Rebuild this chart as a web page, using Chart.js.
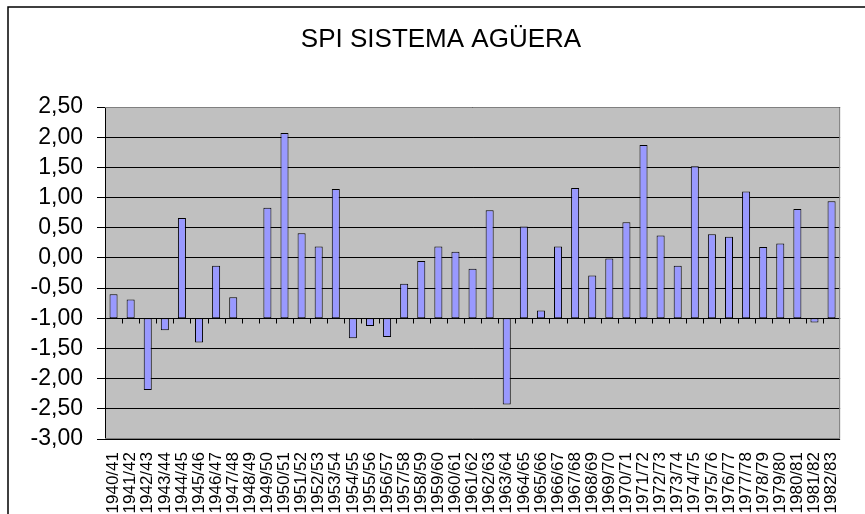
<!DOCTYPE html>
<html>
<head>
<meta charset="utf-8">
<script src="https://cdn.jsdelivr.net/npm/chart.js@4.4.1/dist/chart.umd.min.js"></script>
<style>
  html, body { margin: 0; padding: 0; background: #ffffff; }
  #wrap { width: 865px; height: 514px; position: relative; }
</style>
</head>
<body>
<div id="wrap"><canvas id="spi-chart"></canvas></div>
<script>
"use strict";

const chartTitle = "SPI SISTEMA AGÜERA";

const years = [
  "1940/41", "1941/42", "1942/43", "1943/44", "1944/45", "1945/46", "1946/47",
  "1947/48", "1948/49", "1949/50", "1950/51", "1951/52", "1952/53", "1953/54",
  "1954/55", "1955/56", "1956/57", "1957/58", "1958/59", "1959/60", "1960/61",
  "1961/62", "1962/63", "1963/64", "1964/65", "1965/66", "1966/67", "1967/68",
  "1968/69", "1969/70", "1970/71", "1971/72", "1972/73", "1973/74", "1974/75",
  "1975/76", "1976/77", "1977/78", "1978/79", "1979/80", "1980/81", "1981/82",
  "1982/83",
];

const spiValues = [
  -0.60, -0.69, -2.19, -1.20, 0.66, -1.40, -0.13,
  -0.65, null, 0.83, 2.07, 0.41, 0.19, 1.14,
  -1.33, -1.13, -1.31, -0.43, -0.05, 0.19, 0.10,
  -0.18, 0.79, -2.43, 0.52, -0.87, 0.19, 1.16,
  -0.29, 0.00, 0.59, 1.87, 0.37, -0.13, 1.52,
  0.39, 0.35, 1.10, 0.18, 0.24, 0.81, -1.07,
  0.94,
];

// horizontal axis crosses the value axis at -1
const axisCross = -1;
const yMin = -3;
const yMax = 2.5;
const yStep = 0.5;

const FONT = "'Liberation Sans', Arial, sans-serif";

function formatTick(value) {
  return Number(value).toFixed(2).replace(".", ",");
}

const chartFrame = {
  id: "chartFrame",
  beforeDraw(chart) {
    const { ctx, chartArea: a } = chart;
    ctx.save();
    ctx.fillStyle = "#c0c0c0";
    ctx.fillRect(a.left, a.top, a.right - a.left, a.bottom - a.top);
    ctx.restore();
  },
  afterDatasetsDraw(chart) {
    const { ctx, chartArea: a, scales } = chart;
    ctx.save();
    // category axis line with tick marks at -1
    const yAxis = Math.round(scales.y.getPixelForValue(axisCross)) + 0.5;
    ctx.strokeStyle = "#000000";
    ctx.lineWidth = 1;
    ctx.beginPath();
    ctx.moveTo(a.left, yAxis);
    ctx.lineTo(a.right, yAxis);
    for (let i = 0; i < years.length; i++) {
      const x = Math.round(scales.x.getPixelForValue(i - 0.5)) + 0.5;
      ctx.moveTo(x, yAxis);
      ctx.lineTo(x, yAxis + 5);
    }
    ctx.stroke();
    // plot border (top, right, bottom)
    ctx.strokeStyle = "#808080";
    ctx.beginPath();
    ctx.moveTo(a.left, a.top + 0.5);
    ctx.lineTo(a.right - 0.5, a.top + 0.5);
    ctx.lineTo(a.right - 0.5, a.bottom - 0.5);
    ctx.lineTo(a.left, a.bottom - 0.5);
    ctx.stroke();
    ctx.restore();
  },
  afterDraw(chart) {
    const { ctx } = chart;
    ctx.save();
    ctx.strokeStyle = "#000000";
    ctx.lineWidth = 1.5;
    ctx.strokeRect(8, 7, 880, 530);
    ctx.fillStyle = "#000000";
    ctx.font = "26px " + FONT;
    ctx.textAlign = "center";
    ctx.textBaseline = "middle";
    ctx.fillText(chartTitle, 441, 40);
    ctx.restore();
  },
};

new Chart(document.getElementById("spi-chart"), {
  type: "bar",
  data: {
    labels: years,
    datasets: [
      {
        data: spiValues.map((v) => (v === null ? null : [axisCross, v])),
        backgroundColor: "#9999ff",
        borderColor: "#000000",
        borderWidth: 1,
        borderSkipped: false,
        barPercentage: 0.47,
        categoryPercentage: 1,
      },
    ],
  },
  options: {
    responsive: true,
    maintainAspectRatio: false,
    animation: false,
    layout: { padding: { left: 0, top: 107, right: 3, bottom: 0 } },
    plugins: {
      legend: { display: false },
      title: { display: false },
      tooltip: { enabled: false },
    },
    scales: {
      x: {
        offset: true,
        grid: { display: false, drawTicks: false },
        border: { display: false },
        ticks: {
          color: "#000000",
          font: { family: FONT, size: 17 },
          minRotation: 90,
          maxRotation: 90,
          autoSkip: false,
          padding: 13,
        },
        afterFit(scale) {
          scale.height = 75;
        },
      },
      y: {
        min: yMin,
        max: yMax,
        grid: {
          color: "#000000",
          lineWidth: 1,
          drawTicks: true,
          tickLength: 8,
          tickColor: "#000000",
        },
        border: { display: true, color: "#000000", width: 1 },
        ticks: {
          stepSize: yStep,
          autoSkip: false,
          color: "#000000",
          font: { family: FONT, size: 23 },
          padding: 14,
          callback: (value) => formatTick(value),
        },
        afterFit(scale) {
          scale.width = 105;
        },
      },
    },
  },
  plugins: [chartFrame],
});
</script>
</body>
</html>
